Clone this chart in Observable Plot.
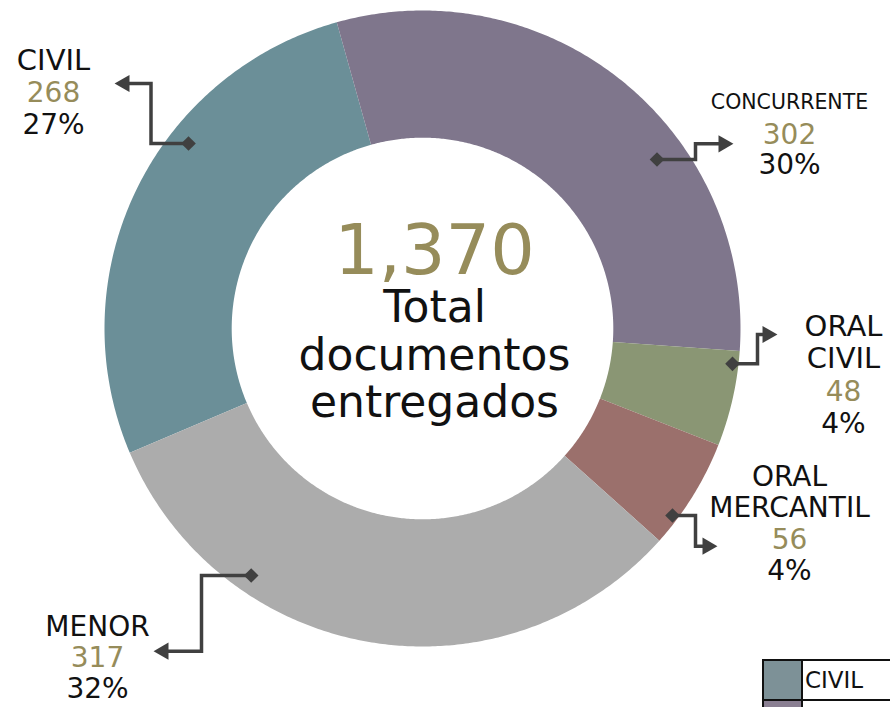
<!DOCTYPE html>
<html>
<head>
<meta charset="utf-8">
<script src="https://cdn.jsdelivr.net/npm/d3@7"></script>
<script src="https://cdn.jsdelivr.net/npm/@observablehq/plot@0.6"></script>
<style>
  html, body { margin: 0; padding: 0; background: #fff; }
  #wrap { position: relative; width: 890px; height: 707px; overflow: hidden; }
  #legend { position: absolute; left: 762px; top: 659px; width: 180px; font-family: "DejaVu Sans", sans-serif; }
  #legend .row { display: flex; height: 40px; }
  #legend .sw { box-sizing: border-box; width: 41px; height: 42px; border: 2px solid #111; flex: none; margin-bottom: -2px; }
  #legend .lb { box-sizing: border-box; border-top: 2px solid #111; font-size: 23px; padding-left: 4px; width: 139px; color: #111; display: flex; align-items: center; margin-left: -2px; }
</style>
</head>
<body>
<div id="wrap"></div>
<script>
// ---- data ----
const categories = ["CIVIL", "CONCURRENTE", "ORAL CIVIL", "ORAL MERCANTIL", "MENOR"];
const values = [268, 302, 48, 56, 317];
const pctLabels = ["27%", "30%", "4%", "4%", "32%"];
const displayNames = ["CIVIL", "CONCURRENTE", "ORAL\nCIVIL", "ORAL\nMERCANTIL", "MENOR"];
const totalValue = 1370;
const centerLines = ["Total", "documentos", "entregados"];
const legendItems = ["CIVIL", "CONCURRENTE"];

// ---- styles ----
const sliceColors = ["#6b8f98", "#7f768c", "#8a9674", "#9b706c", "#acacac"];
const legendColors = ["#7d9197", "#8a7f92"];
const numberColor = "#968c5a";
const textColor = "#111111";
const leaderColor = "#404040";
const font = "DejaVu Sans, sans-serif";

// ---- layout (pixels) ----
const G = {cx: 422, cy: 328, R: 318, inner: 0.6, startDeg: 247};
const labelLayout = [
  {x: 53,  valueBase: 101.5, step: 31.5, nameSize: 29, nameGap: 32},
  {x: 789, valueBase: 143.3, step: 30,   nameSize: 20.5, nameGap: 35},
  {x: 843, valueBase: 400,   step: 32,   nameSize: 29, nameGap: 33},
  {x: 789, valueBase: 548,   step: 31,   nameSize: 28, nameGap: 31.5},
  {x: 97,  valueBase: 666.7, step: 30.5, nameSize: 28, nameGap: 31.5}
];
// leader: diamond point, elbow points, arrow tip, arrow direction (+1 right, -1 left)
const leaderLayout = [
  {pts: [[188, 143], [150.5, 143], [150.5, 83]], tip: [114, 83], dir: -1},
  {pts: [[656.5, 159], [695, 159], [695, 143.3]], tip: [733, 143.3], dir: 1},
  {pts: [[732, 363.3], [757, 363.3], [757, 334]], tip: [777, 334], dir: 1},
  {pts: [[672, 515], [695, 515], [695, 545.7]], tip: [717, 545.7], dir: 1},
  {pts: [[250.7, 575], [201, 575], [201, 650.7]], tip: [153, 650.7], dir: -1}
];
const centerLayout = {x: 434, numBase: 273, numSize: 70, lineBases: [321.7, 369.5, 416], lineSize: 44};

const ux = px => (px - G.cx) / G.R;
const uy = py => (G.cy - py) / G.R;

// ---- slices ----
const total = d3.sum(values);
const slicePts = [];
let acc = G.startDeg;
categories.forEach((cat, i) => {
  const span = values[i] / total * 360;
  const a0 = acc * Math.PI / 180, a1 = (acc + span) * Math.PI / 180;
  acc += span;
  const n = Math.max(4, Math.ceil(span * 2));
  for (let t = 0; t <= n; t++) {
    const a = a0 + (a1 - a0) * t / n;
    slicePts.push({cat, x: Math.sin(a), y: Math.cos(a)});
  }
  for (let t = n; t >= 0; t--) {
    const a = a0 + (a1 - a0) * t / n;
    slicePts.push({cat, x: G.inner * Math.sin(a), y: G.inner * Math.cos(a)});
  }
});

// ---- leaders ----
const leaderPts = [], diamonds = [], arrows = [];
categories.forEach((cat, i) => {
  const L = leaderLayout[i];
  const centroid = [L.tip[0] - L.dir * 10, L.tip[1]];
  [...L.pts, centroid].forEach(p => leaderPts.push({cat, x: ux(p[0]), y: uy(p[1])}));
  diamonds.push({cat, x: ux(L.pts[0][0]), y: uy(L.pts[0][1])});
  arrows.push({cat, x: ux(centroid[0]), y: uy(centroid[1]), rot: L.dir * 90});
});

// ---- label text rows ----
const rows = [];
categories.forEach((cat, i) => {
  const L = labelLayout[i];
  const names = displayNames[i].split("\n");
  names.forEach((t, j) => {
    const base = L.valueBase - L.nameGap - (names.length - 1 - j) * L.step;
    rows.push({text: t, x: ux(L.x), y: uy(base), size: L.nameSize, color: textColor});
  });
  rows.push({text: String(values[i]), x: ux(L.x), y: uy(L.valueBase), size: 28, color: numberColor});
  rows.push({text: pctLabels[i], x: ux(L.x), y: uy(L.valueBase + L.step), size: 28, color: textColor});
});
const centerRows = [{text: d3.format(",")(totalValue), x: ux(centerLayout.x), y: uy(centerLayout.numBase), size: centerLayout.numSize, color: numberColor}]
  .concat(centerLines.map((t, j) => ({text: t, x: ux(centerLayout.x), y: uy(centerLayout.lineBases[j]), size: centerLayout.lineSize, color: textColor})));

const chart = Plot.plot({
  width: 890,
  height: 707,
  margin: 0,
  style: {background: "white", fontFamily: font},
  x: {domain: [-1, 1], range: [G.cx - G.R, G.cx + G.R], axis: null},
  y: {domain: [-1, 1], range: [G.cy + G.R, G.cy - G.R], axis: null},
  color: {domain: categories, range: sliceColors},
  marks: [
    Plot.line(slicePts, {x: "x", y: "y", z: "cat", fill: "cat", stroke: "none", curve: "linear-closed"}),
    Plot.line(leaderPts, {x: "x", y: "y", z: "cat", stroke: leaderColor, strokeWidth: 3.5, strokeLinejoin: "miter", strokeLinecap: "butt", strokeMiterlimit: 4}),
    Plot.dot(diamonds, {x: "x", y: "y", symbol: "diamond2", r: 6.6, fill: leaderColor, stroke: "none"}),
    Plot.dot(arrows, {x: "x", y: "y", symbol: "triangle", r: 6.4, rotate: "rot", fill: leaderColor, stroke: "none"}),
    Plot.text(rows, {x: "x", y: "y", text: "text", fontSize: d => d.size, fill: d => d.color, textAnchor: "middle", lineAnchor: "bottom", fontFamily: font}),
    Plot.text(centerRows, {x: "x", y: "y", text: "text", fontSize: d => d.size, fill: d => d.color, textAnchor: "middle", lineAnchor: "bottom", fontFamily: font})
  ]
});
document.getElementById("wrap").appendChild(chart);

// legend (partially visible in the reference, cropped at the bottom-right)
const legend = document.createElement("div");
legend.id = "legend";
legendItems.forEach((name, i) => {
  const row = document.createElement("div");
  row.className = "row";
  const sw = document.createElement("div");
  sw.className = "sw";
  sw.style.background = legendColors[i];
  const lb = document.createElement("div");
  lb.className = "lb";
  lb.textContent = name;
  row.appendChild(sw); row.appendChild(lb);
  legend.appendChild(row);
});
document.getElementById("wrap").appendChild(legend);
</script>
</body>
</html>
